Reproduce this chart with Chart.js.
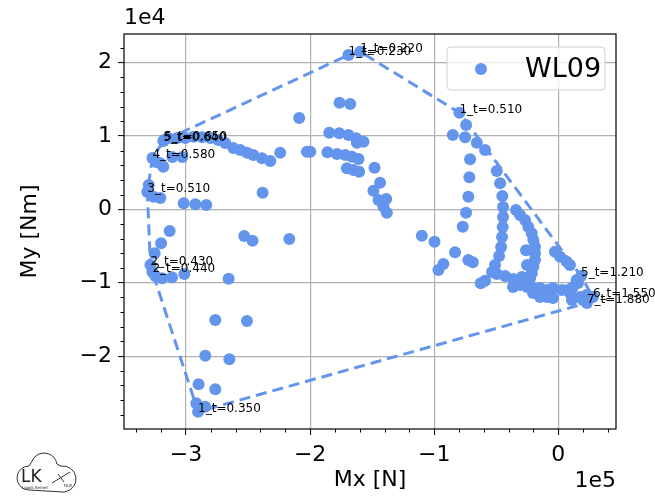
<!DOCTYPE html>
<html>
<head>
<meta charset="utf-8">
<script src="https://cdn.jsdelivr.net/npm/chart.js@4.4.0/dist/chart.umd.min.js"></script>
<style>
  html, body { margin: 0; padding: 0; background: #fff; }
</style>
</head>
<body>
<canvas id="hull" width="655" height="497"></canvas>
<script>
// WL09 section loads: Mx [N] vs My [Nm]
var mx = [
  -176300, -167700, -208800, -184600, -176600, -169100, -162900, -162300, -157000, -199900,
  -186000, -178400, -171700, -166300, -161000, -170400, -165100, -160500, -148100, -143600,
  -149000, -144900, -138700, -140900, -138200,
  -314300, -307200, -300600, -294100, -287100, -280400, -274000, -268400, -261900, -256300,
  -250900, -245800, -238800, -232100, -224100, -202600, -323900, -320700, -318300, -311000,
  -303000,
  -330100, -326300, -320700, -301900, -292500, -283700, -238300,
  -313200, -320100, -325300, -324700, -319300, -311300, -301400, -265700, -253100, -246400,
  -216800, -276400, -250900, -284500, -265100, -289900, -276400, -291700, -284500,
  -74300, -85000, -75100, -65700, -59000, -71100, -71700, -72500, -74300, -77000,
  -110000, -99800, -83200, -72500, -68900, -92600, -96600, -62500, -59000,
  -49600, -46900, -45100, -44500, -44500, -44800, -45300, -46100, -47700, -51000, -53400,
  -49400, -42900, -36500, -36500, -30800, -25200, -20400, -14700, -9100, -4300,
  3000, 7800, 11800, 15900,
  -20400, -14700, -9100, -4300, 9400, 11000, 17500, 22900, 19900,
  -34100, -30800, -26800, -24200, -21400, -20100, -18800, -18800, -18800, -20100,
  -21400, -22800, -26000, -25200, -29300,
  -2700, 1400, 6800, 9400, 14800
];
var my = [
  14520, 14350, 12440, 10440, 10350, 10120, 9670, 9070, 9210, 7850,
  7770, 7530, 7400, 7170, 6850, 5590, 5350, 5120, 5670, 3620,
  2530, 1270, 1400, 350, -460,
  9710, 9710, 9710, 9890, 9810, 9710, 9440, 9030, 8350, 8080,
  7710, 7400, 6950, 6580, 7710, 7850, 6440, 6270, 5800, 7130,
  7130,
  3310, 1720, 1540, 820, 680, 590, 2260,
  -2960, -4630, -5990, -9090, -9400, -9260, -8810, -9460, -3640, -4280,
  -4050, -15080, -15220, -19950, -20440, -23840, -24520, -26430, -26890,
  11490, 10120, 9810, 9070, 8080, 6810, 4360, 1720, -460, -2370,
  -3600, -4410, -5860, -6910, -7220, -7450, -8270, -10080, -9730,
  5220, 3540, 1810, 310, -1050, -2410, -3770, -5140, -6360, -7590, -8540,
  -8810, -9090, -9500, -10590, -10310, -10590, -10720, -10720, -10990, -10720,
  -10990, -10990, -10590, -10040,
  -11400, -11950, -11950, -12080, -11400, -12360, -11950, -11680, -12360,
  -100, -780, -1460, -2370, -3270, -4180, -5100, -5990, -6910, -7820,
  -8720, -9400, -5570, -7600, -9230,
  -5780, -6460, -7140, -7590, -9630
];

// envelope (hull) vertices with their labels, in drawing order
var hullMx = [-159700, -169100, -318300, -317500, -327100, -331200, -328700, -327100, -290300, 23100, 27900, 18300, -79700];
var hullMy = [21470, 21020, 9310, 9440, 6990, 2360, -7590, -8540, -27570, -12770, -11950, -9090, 13160];
var hullLabels = ['1_t=0.220', '1_t=0.230', '5_t=0.640', '5_t=0.650', '4_t=0.580', '3_t=0.510',
  '2_t=0.430', '2_t=0.440', '1_t=0.350', '7_t=1.880', '6_t=1.550', '5_t=1.210', '1_t=0.510'];

var xTicks = [-300000, -200000, -100000, 0];
var yTicks = [-20000, -10000, 0, 10000, 20000];
var seriesName = 'WL09';
var blue = '#6495ED';
var font = 'DejaVu Sans';

function fmt(v, s) {
  var n = Math.round(v / s);
  return n < 0 ? '\u2212' + (-n) : String(n);
}

var pts = [];
for (var i = 0; i < mx.length; i++) pts.push({x: mx[i], y: my[i]});
var hull = [];
for (var j = 0; j < hullMx.length; j++) {
  pts.push({x: hullMx[j], y: hullMy[j]});
  hull.push({x: hullMx[j], y: hullMy[j]});
}
hull.push({x: hullMx[0], y: hullMy[0]});

var extras = {
  id: 'extras',
  afterDatasetsDraw: function(chart) {
    var c = chart.ctx, xs = chart.scales.x, ys = chart.scales.y;
    c.save();
    c.fillStyle = '#000';
    c.font = '12px "' + font + '"';
    c.textAlign = 'left';
    c.textBaseline = 'alphabetic';
    for (var k = 0; k < hullLabels.length; k++) {
      c.fillText(hullLabels[k], xs.getPixelForValue(hullMx[k]), ys.getPixelForValue(hullMy[k]));
    }
    c.restore();
  },
  afterDraw: function(chart) {
    var c = chart.ctx, a = chart.chartArea, xs = chart.scales.x, ys = chart.scales.y;
    c.save();
    // frame
    c.strokeStyle = '#000';
    c.lineWidth = 1.2;
    c.strokeRect(a.left, a.top, a.right - a.left, a.bottom - a.top);
    // minor ticks
    c.lineWidth = 1;
    c.beginPath();
    for (var v = -340000; v <= 46000; v += 20000) {
      if (v % 100000 === 0) continue;
      var px = Math.round(xs.getPixelForValue(v)) + 0.5;
      if (px < a.left || px > a.right) continue;
      c.moveTo(px, a.bottom); c.lineTo(px, a.bottom + 3.5);
    }
    for (var w = -28000; w <= 23000; w += 2000) {
      if (w % 10000 === 0) continue;
      var py = Math.round(ys.getPixelForValue(w)) + 0.5;
      c.moveTo(a.left, py); c.lineTo(a.left - 3.5, py);
    }
    c.stroke();
    // offset texts
    c.fillStyle = '#000';
    c.font = '22px "' + font + '"';
    c.textBaseline = 'middle';
    c.textAlign = 'left';
    c.fillText('1e4', a.left, 18);
    c.textAlign = 'right';
    c.fillText('1e5', a.right, 481);
    // legend
    var lx = a.right - 169, ly = a.top + 13, lw = 158, lh = 43;
    c.beginPath();
    c.roundRect(lx, ly, lw, lh, 4);
    c.fillStyle = 'rgba(255,255,255,0.8)';
    c.fill();
    c.strokeStyle = '#d0d0d0';
    c.lineWidth = 1;
    c.stroke();
    c.fillStyle = blue;
    c.beginPath();
    c.arc(lx + 34, ly + 22, 6, 0, Math.PI * 2);
    c.fill();
    c.fillStyle = '#000';
    c.font = '27px "' + font + '"';
    c.textAlign = 'left';
    c.fillText(seriesName, lx + 78, ly + 23);
    // logo
    c.strokeStyle = '#333';
    c.lineWidth = 1;
    c.beginPath();
    c.arc(29, 478, 12, Math.PI * 0.5, Math.PI * 1.5);
    c.arc(44, 466, 13, Math.PI * 1.1, Math.PI * 1.95);
    c.arc(63, 479, 13, Math.PI * 1.45, Math.PI * 0.5);
    c.closePath();
    c.stroke();
    c.fillStyle = '#222';
    c.font = '17px "' + font + '"';
    c.textAlign = 'left';
    c.fillText('LK', 21, 478);
    c.font = '4px "' + font + '"';
    c.fillText('Loads Kernel', 22, 488);
    c.fillText('DLR', 64, 486);
    c.beginPath();
    c.moveTo(52, 483); c.lineTo(70, 472);
    c.moveTo(58, 474); c.lineTo(64, 482);
    c.stroke();
    c.restore();
  }
};

new Chart(document.getElementById('hull').getContext('2d'), {
  type: 'scatter',
  data: {
    datasets: [{
      label: 'hull',
      data: hull,
      showLine: true,
      borderColor: blue,
      borderWidth: 3,
      borderDash: [11, 6],
      pointRadius: 0,
      fill: false,
      order: 0
    }, {
      label: seriesName,
      data: pts,
      backgroundColor: blue,
      borderWidth: 0,
      pointRadius: 6,
      order: 1
    }]
  },
  options: {
    responsive: false,
    animation: false,
    devicePixelRatio: 1,
    layout: { padding: { top: 34, right: 39, left: 0, bottom: 0 } },
    plugins: { legend: { display: false }, tooltip: { enabled: false } },
    scales: {
      x: {
        type: 'linear',
        min: -350000,
        max: 46500,
        afterFit: function(s) { s.height = 68; },
        afterBuildTicks: function(s) { s.ticks = xTicks.map(function(v) { return {value: v}; }); },
        ticks: {
          color: '#000',
          font: { family: font, size: 22 },
          padding: 7,
          maxRotation: 0,
          callback: function(v) { return fmt(v, 100000); }
        },
        grid: { color: '#b0b0b0', lineWidth: 1.2, tickLength: 6, tickColor: '#000', tickWidth: 1 },
        border: { display: false },
        title: { display: true, text: 'Mx [N]', color: '#000', font: { family: font, size: 22 }, padding: { top: 0, bottom: 4 } }
      },
      y: {
        type: 'linear',
        min: -29930,
        max: 23880,
        afterFit: function(s) { s.width = 124; },
        afterBuildTicks: function(s) { s.ticks = yTicks.map(function(v) { return {value: v}; }); },
        ticks: {
          color: '#000',
          font: { family: font, size: 22 },
          padding: 6,
          callback: function(v) { return fmt(v, 10000); }
        },
        grid: { color: '#b0b0b0', lineWidth: 1.2, tickLength: 6, tickColor: '#000', tickWidth: 1 },
        border: { display: false },
        title: { display: true, text: 'My [Nm]', color: '#000', font: { family: font, size: 22 }, padding: { top: 17, bottom: 0 } }
      }
    }
  },
  plugins: [extras]
});
</script>
</body>
</html>
